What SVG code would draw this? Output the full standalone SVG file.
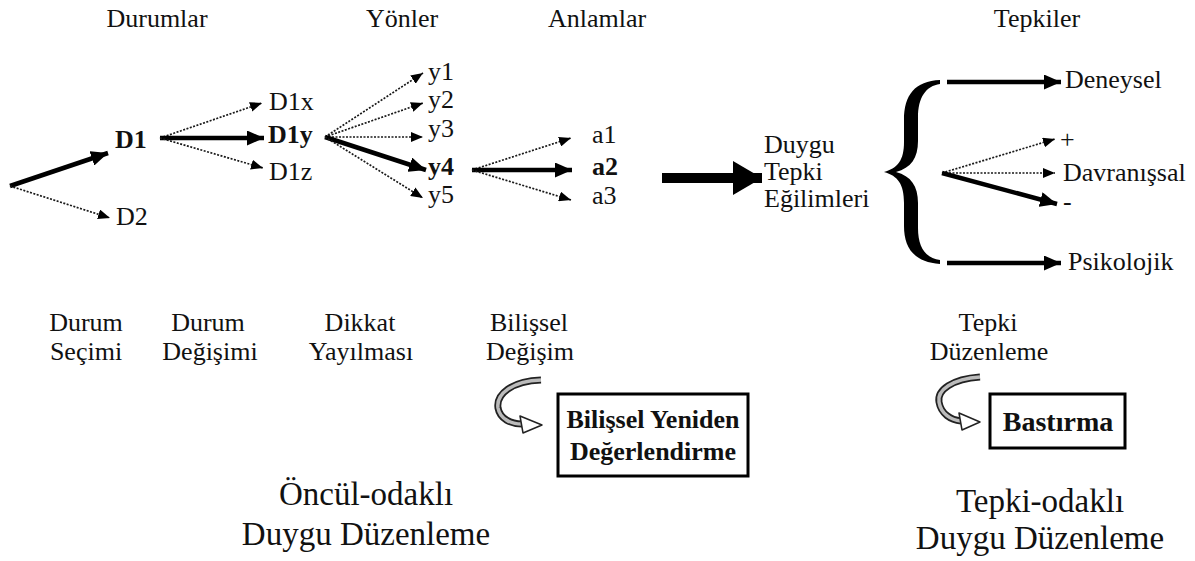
<svg xmlns="http://www.w3.org/2000/svg" width="1195" height="561" viewBox="0 0 1195 561" font-family="'Liberation Serif', 'DejaVu Serif', serif">
  <style>
    text { font-family: 'Liberation Serif', 'DejaVu Serif', serif; fill: #111; }
    .t { font-size: 26px; }
    .b { font-size: 26px; font-weight: bold; }
    .big { font-size: 33px; }
    .dot { stroke: #1a1a1a; stroke-width: 1.7; stroke-dasharray: 2 1.5; fill: none; marker-end: url(#hs); }
    .thk { stroke: #000; stroke-width: 4.5; fill: none; marker-end: url(#hl); }
    .box { fill: #fff; stroke: #000; stroke-width: 3; }
  </style>
  <defs>
    <marker id="hs" markerUnits="userSpaceOnUse" markerWidth="13" markerHeight="10" refX="12" refY="5" orient="auto">
      <path d="M0,0 L12,5 L0,10 Z" fill="#000"/>
    </marker>
    <marker id="hl" markerUnits="userSpaceOnUse" markerWidth="18" markerHeight="15" refX="17" refY="7.5" orient="auto">
      <path d="M0,0 L17,7.5 L0,15 Z" fill="#000"/>
    </marker>
    <marker id="hx" markerUnits="userSpaceOnUse" markerWidth="30" markerHeight="34" refX="29" refY="17" orient="auto">
      <path d="M0,0 L29,17 L0,34 Z" fill="#000"/>
    </marker>
  </defs>

  <rect width="1195" height="561" fill="#fff"/>

  <!-- column headings -->
  <g id="headings" class="t" text-anchor="middle">
    <text x="157" y="27">Durumlar</text>
    <text x="402" y="27">Yönler</text>
    <text x="597" y="27">Anlamlar</text>
    <text x="1037" y="27">Tepkiler</text>
  </g>

  <!-- connectors -->
  <g id="connectors">
    <line class="thk" x1="10" y1="186" x2="108" y2="153"/>
    <line class="dot" x1="10" y1="186" x2="110" y2="218"/>
    <line class="dot" x1="160" y1="138" x2="262" y2="103"/>
    <line class="thk" x1="160" y1="138" x2="264" y2="138"/>
    <line class="dot" x1="160" y1="138" x2="263" y2="168"/>
    <line class="dot" x1="325" y1="137" x2="423" y2="73"/>
    <line class="dot" x1="325" y1="137" x2="423" y2="103"/>
    <line class="dot" x1="325" y1="137" x2="423" y2="137"/>
    <line class="thk" x1="325" y1="137" x2="426" y2="170"/>
    <line class="dot" x1="325" y1="137" x2="423" y2="198"/>
    <line class="dot" x1="472" y1="170" x2="571" y2="138"/>
    <line class="thk" x1="472" y1="170" x2="572" y2="170"/>
    <line class="dot" x1="472" y1="170" x2="571" y2="200"/>
    <line stroke="#000" stroke-width="10" x1="662" y1="178" x2="762" y2="178" marker-end="url(#hx)"/>
    <line class="thk" x1="947" y1="82" x2="1061" y2="82"/>
    <line class="dot" x1="942" y1="173" x2="1055" y2="139"/>
    <line class="dot" x1="942" y1="173" x2="1055" y2="173"/>
    <line class="thk" x1="942" y1="173" x2="1057" y2="204"/>
    <line class="thk" x1="947" y1="263" x2="1061" y2="263"/>
  </g>

  <!-- situations -->
  <g id="node-d1"><text class="b" x="115" y="148">D1</text></g>
  <g id="node-d2"><text class="t" x="116" y="225">D2</text></g>
  <g id="node-d1x"><text class="t" x="269" y="110">D1x</text></g>
  <g id="node-d1y"><text class="b" x="268" y="143">D1y</text></g>
  <g id="node-d1z"><text class="t" x="269" y="180">D1z</text></g>

  <!-- aspects -->
  <g id="node-y1"><text class="t" x="428" y="80">y1</text></g>
  <g id="node-y2"><text class="t" x="428" y="108">y2</text></g>
  <g id="node-y3"><text class="t" x="428" y="137">y3</text></g>
  <g id="node-y4"><text class="b" x="428" y="175">y4</text></g>
  <g id="node-y5"><text class="t" x="428" y="203">y5</text></g>

  <!-- meanings -->
  <g id="node-a1"><text class="t" x="592" y="143">a1</text></g>
  <g id="node-a2"><text class="b" x="592" y="175">a2</text></g>
  <g id="node-a3"><text class="t" x="592" y="204">a3</text></g>

  <g id="node-tendencies" class="t">
    <text x="764" y="153">Duygu</text>
    <text x="764" y="180">Tepki</text>
    <text x="764" y="207">Eğilimleri</text>
  </g>

  <!-- curly brace -->
  <g id="brace">
    <path fill="#000" d="M940,80 C915,81 904,95 904,120 L904,142 C904,160 898,168 884,172 C898,176 904,184 904,203 L904,226 C904,248 914,262 940,264 L940,260 C926,258 918,248 918,228 L918,203 C918,186 911,176 896,172 C911,168 918,158 918,141 L918,118 C918,97 926,86 940,84 Z"/>
  </g>

  <!-- responses -->
  <g id="node-deneysel"><text class="t" x="1065" y="88">Deneysel</text></g>
  <g id="node-plus"><text class="t" x="1060" y="148">+</text></g>
  <g id="node-davranissal"><text class="t" x="1063" y="181">Davranışsal</text></g>
  <g id="node-minus"><text class="t" x="1063" y="210">-</text></g>
  <g id="node-psikolojik"><text class="t" x="1068" y="270">Psikolojik</text></g>

  <!-- process labels -->
  <g id="processes" class="t" text-anchor="middle">
    <text x="86" y="331">Durum</text>
    <text x="86" y="360">Seçimi</text>
    <text x="208" y="331">Durum</text>
    <text x="210" y="360">Değişimi</text>
    <text x="360" y="331">Dikkat</text>
    <text x="361" y="360">Yayılması</text>
    <text x="529" y="331">Bilişsel</text>
    <text x="530" y="360">Değişim</text>
    <text x="988" y="331">Tepki</text>
    <text x="989" y="360">Düzenleme</text>
  </g>

  <!-- reappraisal -->
  <g id="node-reappraisal">
    <path d="M541,380 C512,381 496,394 498,408 C500,419 511,424 522,424" fill="none" stroke="#222" stroke-width="7"/>
    <path d="M541,380 C512,381 496,394 498,408 C500,419 511,424 522,424" fill="none" stroke="#bbb" stroke-width="3.5"/>
    <path d="M520,416 L542,425 L523,433 Z" fill="#fff" stroke="#222" stroke-width="1.5" stroke-linejoin="round"/>
    <rect class="box" x="558" y="394" width="190" height="82"/>
    <text x="653" y="428" text-anchor="middle" font-size="26" font-weight="bold">Bilişsel Yeniden</text>
    <text x="653" y="460" text-anchor="middle" font-size="26" font-weight="bold">Değerlendirme</text>
  </g>

  <!-- suppression -->
  <g id="node-suppression">
    <path d="M980,377 C952,379 937,390 939,402 C941,414 951,420 961,421" fill="none" stroke="#222" stroke-width="7"/>
    <path d="M980,377 C952,379 937,390 939,402 C941,414 951,420 961,421" fill="none" stroke="#bbb" stroke-width="3.5"/>
    <path d="M959,413 L980,422 L962,430 Z" fill="#fff" stroke="#222" stroke-width="1.5" stroke-linejoin="round"/>
    <rect class="box" x="990" y="394" width="135" height="54"/>
    <text x="1058" y="431" text-anchor="middle" font-size="28" font-weight="bold">Bastırma</text>
  </g>

  <!-- strategy families -->
  <g id="antecedent" class="big" text-anchor="middle">
    <text x="366" y="505">Öncül-odaklı</text>
    <text x="366" y="545">Duygu Düzenleme</text>
  </g>
  <g id="response-focused" class="big" text-anchor="middle">
    <text x="1040" y="512">Tepki-odaklı</text>
    <text x="1040" y="549">Duygu Düzenleme</text>
  </g>
</svg>
